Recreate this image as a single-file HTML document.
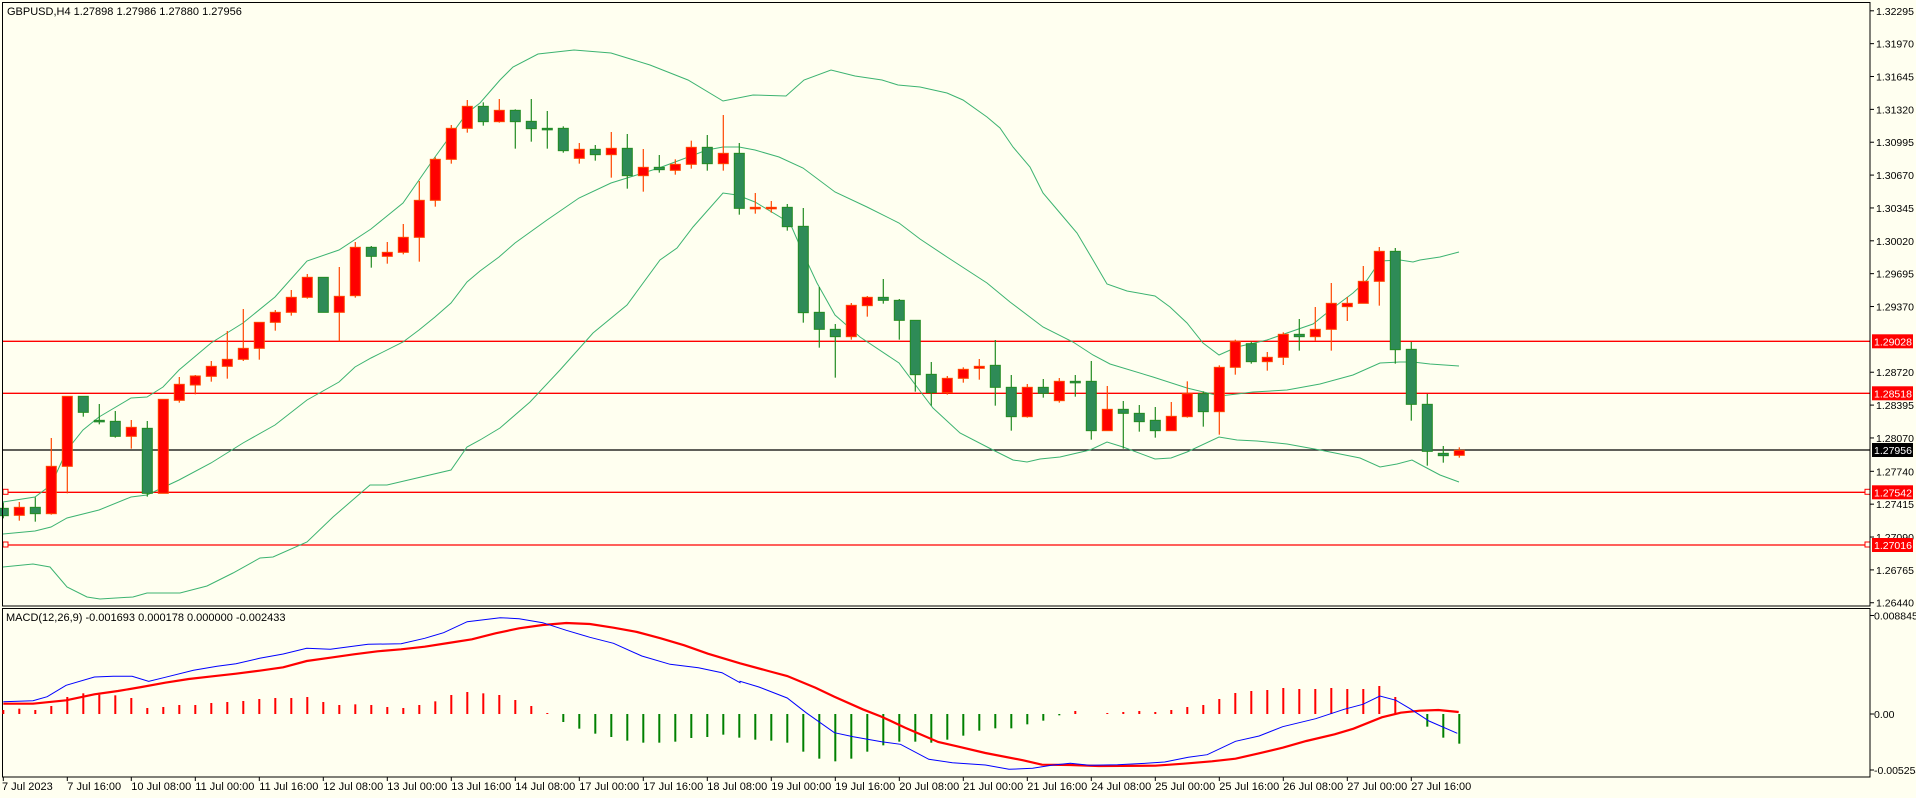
<!DOCTYPE html>
<html><head><meta charset="utf-8"><style>
html,body{margin:0;padding:0;background:#fffff0;}
svg{display:block;font-family:"Liberation Sans",sans-serif;}
</style></head><body>
<svg id="s" width="1916" height="798" xmlns="http://www.w3.org/2000/svg"></svg>
<script>
const S=document.getElementById('s');let h='';
h+='<rect width="1916" height="798" fill="#fffff0"/>';
function py(p){return 10.8+(1.32295-p)*10110;}
const FS=10.5;
const ticks=[1.32295,1.31970,1.31645,1.31320,1.30995,1.30670,1.30345,1.30020,1.29695,1.29370,1.28720,1.28395,1.28070,1.27740,1.27415,1.27090,1.26765,1.26440];
ticks.forEach(p=>{const y=py(p);h+=`<line x1="1870" y1="${y}" x2="1874" y2="${y}" stroke="#000"/><text x="1876" y="${y+4}" font-size="${FS}" fill="#000">${p.toFixed(5)}</text>`;});
[[341.3,'#ff0000','1.29028'],[393.3,'#ff0000','1.28518'],[450,'#000','1.27956'],[492.3,'#ff0000','1.27542'],[545,'#ff0000','1.27016']].forEach(l=>{
h+=`<line x1="3" y1="${l[0]}" x2="1870" y2="${l[0]}" stroke="${l[1]}" stroke-width="1.3"/>`;
h+=`<rect x="1872" y="${l[0]-7}" width="41" height="14" fill="${l[1]}"/><text x="1874" y="${l[0]+4}" font-size="${FS}" fill="#fff">${l[2]}</text>`;});
[492.3,545].forEach(y=>{h+=`<rect x="3" y="${y-3}" width="5" height="5" fill="#fffff0" stroke="#ff0000"/><rect x="1865" y="${y-3}" width="5" height="5" fill="#fffff0" stroke="#ff0000"/>`;});
function poly(pts,c,w){return `<polyline points="${pts.map(p=>p.join(',')).join(' ')}" fill="none" stroke="${c}" stroke-width="${w}"/>`;}
const up=[[3,502],[35,497],[51,485],[67,450],[83,430],[99,417],[131,398],[147,397],[163,387],[179,370],[211,343],[243,323],[275,297],[307,261],[339,250],[371,229],[403,203],[435,157],[467,113],[480,103],[500,80],[513,67],[538,54],[574,50],[611,53],[650,65],[688,80],[723,101],[753,95],[786,96],[804,80],[831,70],[855,76],[882,80],[898,85],[920,87],[947,93],[963,100],[987,117],[1000,128],[1013,147],[1030,167],[1043,193],[1060,213],[1077,233],[1093,260],[1107,284],[1127,291],[1155,296],[1170,307],[1187,323],[1203,343],[1219,355],[1237,347],[1267,340],[1287,333],[1313,324],[1333,308],[1353,293],[1367,280],[1380,261],[1400,260],[1413,262],[1420,260],[1440,257],[1459,252]];
const mid=[[3,534],[35,531],[51,527],[67,518],[99,510],[131,497],[147,495],[179,480],[211,463],[243,443],[275,425],[307,400],[339,382],[355,367],[371,358],[403,342],[419,330],[435,317],[451,303],[467,282],[480,271],[499,257],[515,243],[547,220],[579,198],[611,183],[627,178],[659,168],[675,162],[707,150],[723,147],[739,147],[755,150],[779,157],[803,168],[835,192],[867,207],[899,223],[920,239],[947,257],[987,283],[1010,302],[1043,327],[1073,342],[1093,355],[1110,364],[1153,377],[1187,388],[1220,396],[1237,394],[1253,392],[1287,390],[1320,384],[1353,375],[1380,363],[1400,362],[1413,362],[1430,364],[1459,366]];
const lo=[[3,567],[33,564],[50,567],[67,587],[87,597],[100,599],[133,597],[147,593],[180,593],[207,586],[233,573],[260,558],[273,557],[307,542],[333,517],[370,485],[387,485],[451,470],[467,447],[480,440],[500,428],[530,402],[560,370],[593,333],[627,305],[660,260],[677,248],[693,227],[723,193],[737,195],[755,202],[790,223],[803,253],[817,283],[835,315],[860,337],[899,363],[917,387],[933,408],[960,433],[993,450],[1013,460],[1027,462],[1040,459],[1060,457],[1090,450],[1107,442],[1123,447],[1155,459],[1171,458],[1187,452],[1219,437],[1237,440],[1257,441],[1287,444],[1320,450],[1360,458],[1380,467],[1397,464],[1412,460],[1423,466],[1440,475],[1459,482]];
[up,mid,lo].forEach(a=>h+=poly(a,'#3cb371',1));
const A=[[1285,1307,1268,1315,'g'],[1282,1306,1266,1322,'r'],[1282,1301,1252,1325,'g'],[1159,1301,1074,1304,'r'],[949,1159,949,1240,'r'],[949,997,949,1010,'g'],[1021,1024,972,1033,'g'],[1024,1069,993,1073,'g'],[1042,1069,1020,1106,'r'],[1045,1240,1023,1250,'g'],[958,1240,958,1240,'r'],[913,961,891,968,'r'],[888,915,885,943,'r'],[859,889,843,905,'r'],[838,859,753,896,'r'],[805,838,687,843,'r'],[727,805,727,839,'r'],[697,727,690,752,'r'],[652,697,630,707,'r'],[592,652,582,656,'r'],[592,697,592,697,'g'],[649,697,561,784,'r'],[502,647,486,653,'r'],[502,529,498,563,'g'],[517,529,486,551,'r'],[472,517,432,523,'r'],[361,472,303,545,'r'],[238,361,232,380,'r'],[145,238,135,251,'r'],[79,145,60,158,'r'],
[79,125,67,137,'g'],[91,125,57,128,'r'],[91,125,88,206,'g'],[124,146,57,185,'g'],[145,146,93,206,'g'],[145,212,139,218,'g'],[208,235,189,251,'r'],[208,224,195,242,'g'],[205,224,156,293,'r'],[205,287,162,326,'g'],[262,287,207,335,'r'],[262,269,225,278,'g'],[253,271,238,284,'r'],[202,253,182,266,'r'],[202,251,165,272,'g'],[220,251,105,272,'r'],[220,385,189,404,'g'],[382,385,339,401,'r'],[382,385,363,398,'r'],[382,440,372,452,'g'],[439,698,384,728,'g'],[697,748,621,803,'g'],[748,770,732,893,'g'],[676,770,669,779,'r'],[652,677,648,710,'r'],[652,661,597,671,'g'],[661,721,657,779,'g'],[721,884,721,935,'g'],[883,938,846,977,'g'],
[895,938,888,944,'r'],[868,895,862,908,'r'],[859,865,837,899,'r'],[856,922,780,977,'g'],[922,1010,885,1052,'g'],[922,1010,912,1013,'r'],[922,940,897,953,'g'],[904,962,894,968,'r'],[904,905,885,950,'g'],[904,1052,843,1079,'g'],[988,1052,918,1052,'r'],[988,1000,963,1106,'g'],[1000,1025,975,1055,'g'],[1021,1052,981,1073,'g'],[1009,1052,966,1052,'r'],[941,1010,904,1013,'r'],[941,995,934,1040,'g'],[862,995,856,1064,'r'],[785,862,779,884,'r'],[791,845,785,851,'g'],[832,845,816,872,'r'],[763,832,757,855,'r'],[763,770,717,812,'g'],[748,770,681,782,'r'],[670,748,609,812,'r'],[670,680,651,723,'r'],[604,670,558,670,'r'],[514,604,501,677,'r'],[514,809,504,851,'g']];
const B=[[448,613,426,662,'g'],[613,754,582,797,'g'],[760,767,738,788,'g'],[751,766,742,773,'r']];
function cdl(i,c,off){const x=3.3+16*i;const col=c[4]=='r'?'#ff0000':'#2e8b57',st=c[4]=='r'?'#ff4500':'#228b22';
let bt=c[0]/3+off,bb=c[1]/3+off,wt=c[2]/3+off,wb=c[3]/3+off;
h+=`<line x1="${x}" y1="${wt}" x2="${x}" y2="${wb}" stroke="${st}" stroke-width="1.2"/>`;
if(bb-bt<1.5)bb=bt+1.5;
h+=`<rect x="${x-5}" y="${bt}" width="10" height="${bb-bt}" fill="${col}" stroke="${st}" stroke-width="1"/>`;}
A.forEach((c,i)=>cdl(i,c,80));B.forEach((c,i)=>cdl(88+i,c,200));
h+=`<rect x="2.5" y="2.5" width="1867.5" height="603.5" fill="none" stroke="#000"/>`;
h+=`<rect x="2.5" y="608.5" width="1867.5" height="168.5" fill="none" stroke="#000"/>`;
h+=`<text x="7" y="15" font-size="11" fill="#000">GBPUSD,H4  1.27898 1.27986 1.27880 1.27956</text>`;
h+=`<text x="6" y="621" font-size="11" fill="#000">MACD(12,26,9) -0.001693 0.000178 0.000000 -0.002433</text>`;
[[615.5,'0.008845'],[714,'0.00'],[770,'-0.005254']].forEach(t=>{h+=`<line x1="1870" y1="${t[0]}" x2="1874" y2="${t[0]}" stroke="#000"/><text x="1874" y="${t[0]+4}" font-size="${FS}">${t[1]}</text>`;});
const Z=714;
const hv=[312,308,312,300,273,262,266,268,276,306,303,297,297,291,288,285,279,276,276,273,288,297,295,297,303,306,297,286,267,258,262,267,282,300,321,
348,368,383,393,404,410,410,407,396,393,386,395,
401,404,410,437,458,466,458,437,418,407,407,410,401,389,374,367,367,355,344,328,
315,324,321,318,315,318,312,303,297,279,261,255,252,246,249,249,246,249,249,240,273,324,362,395,413];
hv.forEach((v,i)=>{const x=3.3+16*i;const y=v/3+606;if(Math.abs(y-Z)<0.5)return;const red=y<Z;
h+=`<rect x="${x-1}" y="${Math.min(y,Z)}" width="2" height="${Math.abs(y-Z)}" fill="${red?'#ff0000':'#008000'}"/>`;});
const bl8=[[7,287],[70,284],[100,272],[140,238],[200,213],[240,211],[280,211],[315,226],[350,214],[410,193],[460,181],[500,173],[550,157],[600,144],[650,127],[700,130],[740,122],[780,115],[850,113],[900,97],[940,80],[990,47],[1060,35],[1100,38],[1150,50],[1200,73],[1250,94],[1300,112],[1360,150],[1420,175],[1480,185],[1530,200],[1568,230]];
const bl9=[[0,226],[40,243],[100,276],[140,320],[200,380],[240,392],[300,407],[340,415],[400,460],[450,470],[520,477],[570,490],[620,487],[660,478],[700,472],[740,478],[800,476],[860,472],[900,468],[950,454],[990,446],[1050,406],[1100,390],[1150,362],[1220,338],[1280,310],[1320,295],[1356,270],[1390,283],[1420,308],[1460,345],[1520,382]];
const rd8=[[7,293],[70,293],[140,283],[200,265],[250,255],[300,243],[350,230],[400,219],[450,211],[500,203],[550,194],[600,184],[650,165],[700,155],[750,145],[800,136],[850,130],[900,122],[950,111],[1000,100],[1050,82],[1100,67],[1150,57],[1200,51],[1250,54],[1300,65],[1350,78],[1400,97],[1450,118],[1500,143],[1568,172]];
const rd9=[[0,172],[60,195],[100,210],[160,245],[200,272],[260,310],[300,332],[350,365],[420,408],[460,421],[520,441],[600,463],[640,476],[700,477],[760,480],[880,479],[940,473],[1000,466],[1050,458],[1100,442],[1150,425],[1200,405],[1260,385],[1300,368],[1360,334],[1400,320],[1440,314],[1480,312],[1523,318]];
const cv=(a,o)=>a.map(p=>[(p[0]/2.119+o).toFixed(1),(p[1]/3+606).toFixed(1)]);
h+=poly(cv(rd8,0).concat(cv(rd9,740)),'#ff0000',2.2);
h+=poly(cv(bl8,0).concat(cv(bl9,740)),'#0000ff',1);
const tl=['7 Jul 2023','7 Jul 16:00','10 Jul 08:00','11 Jul 00:00','11 Jul 16:00','12 Jul 08:00','13 Jul 00:00','13 Jul 16:00','14 Jul 08:00','17 Jul 00:00','17 Jul 16:00','18 Jul 08:00','19 Jul 00:00','19 Jul 16:00','20 Jul 08:00','21 Jul 00:00','21 Jul 16:00','24 Jul 08:00','25 Jul 00:00','25 Jul 16:00','26 Jul 08:00','27 Jul 00:00','27 Jul 16:00'];
tl.forEach((t,k)=>{const x=3.3+16*4*k;h+=`<line x1="${x}" y1="777" x2="${x}" y2="781" stroke="#000"/><text x="${k==0?2:x}" y="790" font-size="11">${t}</text>`;});
S.innerHTML=h;
</script>
</body></html>
